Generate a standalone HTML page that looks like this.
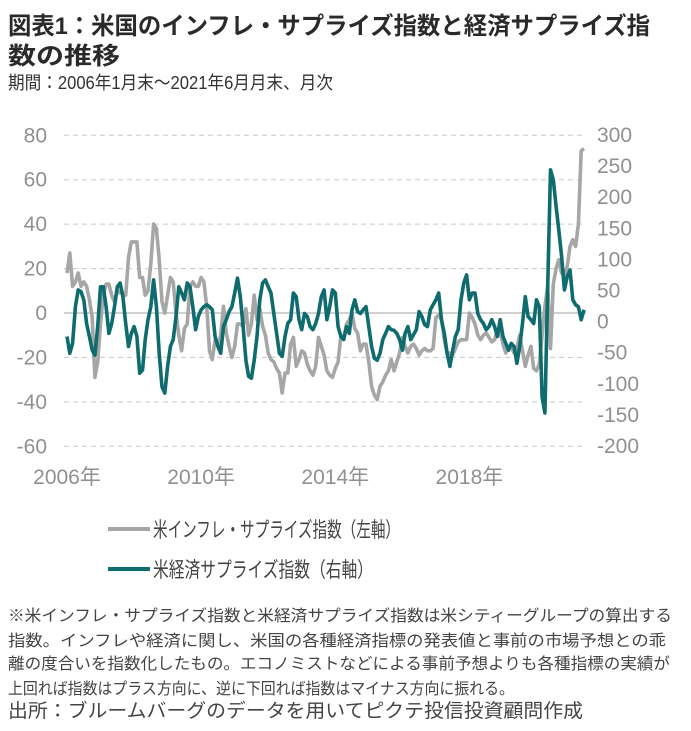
<!DOCTYPE html>
<html><head><meta charset="utf-8"><style>
html,body{margin:0;padding:0;background:#fff}
svg{display:block}
text{font-family:"Liberation Sans","Noto Sans CJK JP",sans-serif}
</style></head><body>
<svg id="chart" width="691" height="731" viewBox="0 0 691 731">
<text x="8" y="34" font-size="24" font-weight="bold" fill="#2a2a2a" textLength="642" lengthAdjust="spacingAndGlyphs">図表1：米国のインフレ・サプライズ指数と経済サプライズ指</text>
<text x="8" y="64" font-size="24" font-weight="bold" fill="#2a2a2a" textLength="112" lengthAdjust="spacingAndGlyphs">数の推移</text>
<text x="8" y="89" font-size="18" fill="#333" textLength="325" lengthAdjust="spacingAndGlyphs">期間：2006年1月末～2021年6月月末、月次</text>
<g id="grid"></g>
<g id="yleft"></g>
<g id="yright"></g>
<g id="xaxis"></g>
<g id="series"></g>
<line x1="108" y1="529" x2="150" y2="529" stroke="#a6a6a6" stroke-width="4"/>
<text x="153" y="537" font-size="21" fill="#444" textLength="247" lengthAdjust="spacingAndGlyphs">米インフレ・サプライズ指数（左軸）</text>
<line x1="108" y1="569" x2="150" y2="569" stroke="#0e6b6e" stroke-width="4"/>
<text x="153" y="577" font-size="21" fill="#444" textLength="220" lengthAdjust="spacingAndGlyphs">米経済サプライズ指数（右軸）</text>
<g fill="#444" font-size="16">
<text x="8" y="621" textLength="664" lengthAdjust="spacingAndGlyphs">※米インフレ・サプライズ指数と米経済サプライズ指数は米シティーグループの算出する</text>
<text x="8" y="646" textLength="658" lengthAdjust="spacingAndGlyphs">指数。インフレや経済に関し、米国の各種経済指標の発表値と事前の市場予想との乖</text>
<text x="8" y="669" textLength="662" lengthAdjust="spacingAndGlyphs">離の度合いを指数化したもの。エコノミストなどによる事前予想よりも各種指標の実績が</text>
<text x="8" y="694" textLength="506" lengthAdjust="spacingAndGlyphs">上回れば指数はプラス方向に、逆に下回れば指数はマイナス方向に振れる。</text>
</g>
<text x="8" y="717" font-size="19" fill="#444" textLength="575" lengthAdjust="spacingAndGlyphs">出所：ブルームバーグのデータを用いてピクテ投信投資顧問作成</text>
</svg>
<script>
const leftTicks = [80,60,40,20,0,-20,-40,-60];
const rightTicks = [300,250,200,150,100,50,0,-50,-100,-150,-200];
const yearLabels = ["2006年","2010年","2014年","2018年"];
const yearMonthIdx = [0,48,96,144];
const inflation = [18,27,12,14,18,12,14,12,6,-2,-29,-22,-5,8,13,13,8,5,10,9,9,8,25,32,32,32,16,16,8,10,22,40,38,24,5,0,8,16,14,0,-10,-17,-7,-5,12,14,12,12,16,14,3,-17,-21,-12,-15,-10,3,-9,-15,-20,-15,-5,-5,-6,2,-10,-5,8,-3,2,-6,-10,-18,-21,-22,-25,-27,-36,-27,-27,-14,-11,-24,-21,-17,-18,-23,-26,-28,-24,-11,-15,-19,-26,-28,-29,-25,-22,-10,-11,-5,-3,0,-7,-9,-17,-14,-14,-22,-33,-37,-39,-33,-31,-28,-26,-21,-26,-22,-18,-11,-15,-18,-15,-14,-16,-19,-17,-16,-17,-17,-16,-2,-1,-3,-12,-18,-18,-19,-16,-13,-12,-12,-12,0,-2,-5,-10,-12,-10,-9,-11,-13,-12,-8,-9,-14,-18,-15,-15,-18,-16,-10,-17,-24,-19,-15,-25,-26,-23,-10,3,12,-16,13,20,24,18,17,21,30,33,30,40,73,74];
const economic = [-24,-51,-35,24,51,48,35,-3,-24,-46,-54,-8,56,56,24,-19,-3,24,56,62,40,-3,-40,-19,-8,-24,-83,-78,-29,3,24,67,24,-51,-105,-115,-72,-40,-29,8,56,46,35,62,56,24,-13,8,19,24,27,24,19,-24,-40,-51,-8,3,16,24,46,70,40,-8,-62,-88,-91,-62,-24,35,62,67,56,46,13,-19,-51,-56,-24,-3,3,46,40,3,-13,13,8,-8,-13,-3,13,40,51,3,24,51,46,-8,-24,-29,-8,-19,19,35,16,13,19,24,-8,-40,-59,-62,-51,-29,-19,-8,-13,-14,-19,-29,-46,-19,-8,-29,-21,-13,16,8,-5,-8,19,27,35,46,3,-19,-51,-72,-46,-24,-13,35,62,75,35,46,46,13,3,-3,-13,-8,3,-8,-24,3,-24,-35,-46,-35,-40,-67,-40,-3,40,8,3,-3,35,24,-121,-147,56,244,228,185,147,105,51,72,83,35,27,24,3,19];

const NS='http://www.w3.org/2000/svg';
const X0=67, X1=584, PLOT_L=64, PLOT_R=586;
const xPos = i => X0 + i*(X1-X0)/(inflation.length-1);
const yL = v => 313 - v*(446-135)/140;
const yR = v => 135 + (300-v)*(446-135)/500;
function mk(tag, attrs, parent, txt){const e=document.createElementNS(NS,tag);for(const k in attrs)e.setAttribute(k,attrs[k]);if(txt!==undefined)e.textContent=txt;parent.appendChild(e);return e;}
const grid=document.getElementById('grid'), gl=document.getElementById('yleft'), gr=document.getElementById('yright'), gx=document.getElementById('xaxis'), gs=document.getElementById('series');
leftTicks.forEach(v=>{
  const y=yL(v);
  const ln=mk('line',{x1:PLOT_L,x2:PLOT_R,y1:y,y2:y,stroke:v===0?'#d0d0d0':'#c8c8c8','stroke-width':v===0?2:1,'stroke-dasharray':v===0?'none':'5,4'},grid);
  
  
  const t=mk('text',{x:47,y:y+7,'text-anchor':'end','font-size':21,fill:'#909090'},gl,String(v));
  
  
});
rightTicks.forEach(v=>{
  const t=mk('text',{x:597,y:yR(v)+7,'font-size':21,fill:'#909090'},gr,String(v));
  
  
});
yearLabels.forEach((s,k)=>{
  const t=mk('text',{x:xPos(yearMonthIdx[k]),y:484,'text-anchor':'middle','font-size':21,fill:'#909090'},gx,s);
  
  
});
const p1=mk('polyline',{points:inflation.map((v,i)=>xPos(i).toFixed(1)+','+yL(v).toFixed(1)).join(' '),fill:'none',stroke:'#a6a6a6','stroke-width':3.6,'stroke-linejoin':'round'},gs);


const p2=mk('polyline',{points:economic.map((v,i)=>xPos(i).toFixed(1)+','+yR(v).toFixed(1)).join(' '),fill:'none',stroke:'#0e6b6e','stroke-width':3.6,'stroke-linejoin':'round'},gs);


</script>
</body></html>
